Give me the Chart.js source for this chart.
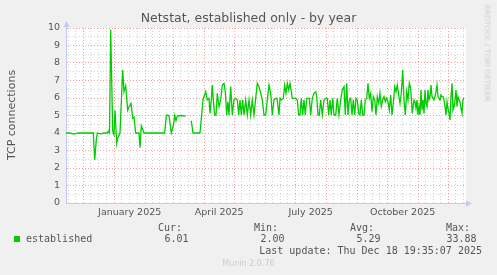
<!DOCTYPE html>
<html>
<head>
<meta charset="utf-8">
<script src="https://cdn.jsdelivr.net/npm/chart.js@4.4.1/dist/chart.umd.min.js"></script>
<style>
  html, body { margin: 0; padding: 0; background: #f0f0f0; }
  #wrap { position: relative; width: 497px; height: 275px; overflow: hidden; font-family: "DejaVu Sans", sans-serif; color: #555; }
  canvas { position: absolute; left: 0; top: 0; }
  .t { position: absolute; white-space: pre; line-height: 1; }
  .mono { font-family: "DejaVu Sans Mono", monospace; font-size: 10px; }
  .r { text-align: right; }
</style>
</head>
<body>
<div id="wrap">
  <canvas id="chart" width="497" height="275"></canvas>
  <div class="t" style="left:0; width:497px; text-align:center; top:12px; font-size:12.5px;">Netstat, established only - by year</div>
  <div class="t" style="left:11px; top:115px; font-size:11px; transform:translate(-50%,-50%) rotate(-90deg);">TCP connections</div>
  <div class="t" style="left:487px; top:53px; font-size:7.5px; color:#d0d0d0; transform:translate(-50%,-50%) rotate(90deg);">RRDTOOL / TOBI OETIKER</div>
  <div id="legend"></div>
  <div class="t" style="left:0; width:497px; text-align:center; top:260px; font-size:8px; color:#cccccc;">Munin 2.0.76</div>
</div>
<script>
// Munin "by year" graph: 400 days ending at the last update
const lastUpdate = new Date(2025, 11, 18, 19, 35, 7);
const spanDays = 400;
const startDate = new Date(lastUpdate.getTime() - spanDays * 86400000);

// days since start of the window, and established connections
const days = [
  0, 4, 6, 9, 12, 27.3, 28.7, 30.3, 31.3, 35, 38, 41.3, 42.3, 43.5, 44.7, 46.7, 48, 49, 50.7, 51.7,
  54, 56.7, 58, 59.7, 61.7, 63, 65, 66.7, 68, 69.7, 73, 74, 75.3, 76.7, 78, 98.7, 100.3, 103, 105.3, 107.3,
  108.7, 110, 111.3, 114.7, 119.7, 122.5, 125.3, 127, 134, 137,
  139.7, 141.3, 143, 144, 145.3, 146.3, 147.3, 148.7, 150, 151.3, 153, 154.7, 156.3, 158, 159.3, 160.7,
  162, 163, 164.7, 166.3, 168, 169.7, 171.3, 172.7, 174, 175.3, 176.7, 178, 179.7, 181.3, 183, 184.7,
  186.3, 188, 189.7, 191.3, 193, 194.7, 196.3, 198, 199.7, 201.3, 203, 204.7, 206.3, 208, 209.7,
  211, 213, 214, 215.3, 217.3, 218.7, 220, 221.3, 222.7, 224, 225.3, 226.3, 228, 229.7, 231.3, 232.7,
  234, 235.3, 236.7, 238, 239.3, 240.7, 242, 243.3, 244.7, 246.3, 248, 249.7, 250.7, 252, 253.3, 254.7,
  256.3, 258, 259.7, 261.3, 262.7, 264, 265.3, 266.7, 268, 269.7, 271.3, 273, 274.7, 276.3, 278,
  279.3, 280.7, 282, 283.3, 284.7, 286, 287.3, 288.7, 290, 291.3, 292.7, 294, 295.3, 296.7, 298, 299.3,
  300.7, 302, 303.3, 304.7, 306, 307.3, 308.7, 310, 311.3, 312.7, 314, 315.3, 316.7, 318, 319.3, 320.7,
  322, 323.3, 324.7, 326, 327.3, 328.7, 330, 331.3, 332.7, 334, 335.3, 336.7, 338, 339.3, 340.7, 342,
  343.3, 344.7, 346.3, 348,
  349, 350, 351, 352, 353, 354, 355, 356, 357, 358, 359, 360, 361, 362, 363, 364, 365, 366, 367, 368,
  369, 370, 371, 372, 373, 374, 375, 376, 377, 378, 379, 380, 381, 382, 383, 384, 385, 386, 387, 388,
  389, 390, 391, 392, 393, 394, 395, 396, 397, 398
];
const connections = [
  4.0, 4.0, 3.95, 3.95, 4.0, 4.0, 2.46, 3.6, 4.0, 3.95, 4.0, 4.0, 4.1, 4.0, 9.9, 4.1, 3.9, 5.3, 3.4, 3.7,
  4.0, 7.6, 6.36, 6.7, 5.3, 5.5, 5.7, 4.84, 4.9, 4.0, 4.0, 3.16, 4.4, 4.2, 4.0, 4.0, 5.03, 5.0, 4.0, 4.4,
  5.0, 4.7, 4.97, 5.0, 4.97, null, 4.7, 4.0, 4.0, 5.9,
  6.36, 5.89, 5.98, 5.12, 5.89, 6.74, 5.89, 5.03, 5.03, 6.27, 5.51, 5.89, 6.74, 6.84, 6.36, 5.03,
  5.79, 5.03, 6.65, 5.03, 5.89, 5.98, 5.89, 5.03, 5.89, 5.03, 5.89, 5.03, 5.89, 5.03, 5.89, 5.03,
  5.89, 5.03, 5.98, 6.84, 6.65, 6.27, 5.89, 5.03, 5.03, 5.89, 6.74, 6.27, 5.03, 5.89, 5.98,
  5.98, 5.03, 5.98, 5.89, 5.98, 6.74, 6.27, 6.84, 6.46, 6.84, 6.36, 5.98, 5.98, 5.98, 5.89, 5.03,
  5.03, 5.98, 5.03, 5.89, 5.03, 5.98, 5.98, 5.98, 5.03, 5.98, 6.27, 6.36, 6.08, 5.03, 5.03, 5.89,
  5.03, 5.89, 5.98, 5.98, 5.03, 5.89, 5.03, 5.98, 5.03, 5.03, 5.98, 5.03, 5.89, 6.46, 6.65,
  5.03, 6.84, 5.03, 5.89, 5.98, 5.03, 5.89, 5.03, 5.98, 5.89, 5.12, 5.03, 5.89, 5.03, 5.03, 5.89,
  5.98, 6.84, 5.98, 6.27, 5.22, 6.08, 5.89, 5.03, 6.08, 5.7, 6.27, 5.51, 5.89, 6.08, 5.79, 5.98,
  5.79, 5.31, 6.17, 5.03, 5.7, 6.65, 6.36, 6.74, 6.17, 5.7, 6.27, 7.6, 5.89, 5.03, 6.36, 5.89,
  6.84, 6.55, 5.12, 5.89,
  5.79, 5.41, 5.89, 5.03, 5.51, 5.03, 6.46, 5.31, 5.89, 5.12, 6.46, 5.7, 5.51, 6.46, 5.89, 6.08, 6.74, 6.08, 5.98, 5.89,
  6.08, 6.36, 6.74, 6.08, 5.98, 5.89, 6.17, 6.08, 6.08, 5.89, 5.51, 5.03, 5.79, 5.41, 5.12, 4.74, 6.08, 6.84, 5.31, 5.51,
  5.89, 6.46, 5.51, 6.08, 5.89, 5.79, 5.41, 5.12, 5.89, 6.01
];

const monthLabels = ['January 2025', 'April 2025', 'July 2025', 'October 2025'];
const labelMonths = [[2025, 0], [2025, 3], [2025, 6], [2025, 9]];
const statNames = ['Cur:', 'Min:', 'Avg:', 'Max:'];
const statValues = ['6.01', '2.00', '5.29', '33.88'];
const seriesName = 'established';
const lastUpdateText = 'Last update: Thu Dec 18 19:35:07 2025';

const lineColor = '#00cc00';
const majorGrid = '#f0a0a0';
const minorGrid = '#d4d4d4';
const axisColor = '#c8c8f8';

function dayOf(date) {
    return (date.getTime() - startDate.getTime()) / 86400000;
}

// month lines (major), quarter-month lines (minor), labels mid-month
function buildTimeTicks() {
    const ticks = [];
    for (let m = 0; m < 15; m++) {
        const a = new Date(2024, 10 + m, 1);
        const b = new Date(2024, 11 + m, 1);
        const d0 = dayOf(a), d1 = dayOf(b);
        if (d0 > 0 && d0 < spanDays) ticks.push({ value: d0, kind: 'major' });
        for (let q = 1; q < 4; q++) {
            const dq = d0 + (d1 - d0) * q / 4;
            if (dq > 0 && dq < spanDays) ticks.push({ value: dq, kind: 'minor' });
        }
    }
    labelMonths.forEach((ym, i) => {
        const mid = (dayOf(new Date(ym[0], ym[1], 1)) + dayOf(new Date(ym[0], ym[1] + 1, 1))) / 2;
        ticks.push({ value: mid, kind: 'label', text: monthLabels[i] });
    });
    ticks.sort((p, q) => p.value - q.value);
    return ticks;
}

const points = days.map((d, i) => ({ x: d, y: connections[i] }));

const plotBackground = {
    id: 'plotBackground',
    beforeDraw(chart) {
        const { ctx, chartArea: a } = chart;
        ctx.save();
        ctx.fillStyle = '#ffffff';
        ctx.fillRect(a.left, a.top, a.right - a.left, a.bottom - a.top);
        ctx.restore();
    }
};

const axisArrows = {
    id: 'axisArrows',
    afterDraw(chart) {
        const { ctx, chartArea: a } = chart;
        const x = Math.round(a.left) + 0.5;
        const y = Math.round(a.bottom) + 0.5;
        ctx.save();
        ctx.strokeStyle = axisColor;
        ctx.fillStyle = axisColor;
        ctx.lineWidth = 1;
        ctx.beginPath();
        ctx.moveTo(x, a.top); ctx.lineTo(x, a.top - 4);
        ctx.moveTo(a.right, y); ctx.lineTo(a.right + 3, y);
        ctx.stroke();
        ctx.beginPath();
        ctx.moveTo(x, a.top - 7); ctx.lineTo(x - 3, a.top - 1); ctx.lineTo(x + 3, a.top - 1);
        ctx.closePath(); ctx.fill();
        ctx.beginPath();
        ctx.moveTo(a.right + 6, y); ctx.lineTo(a.right, y - 3); ctx.lineTo(a.right, y + 3);
        ctx.closePath(); ctx.fill();
        ctx.restore();
    }
};

new Chart(document.getElementById('chart'), {
    type: 'line',
    data: {
        datasets: [{
            label: seriesName,
            data: points,
            borderColor: lineColor,
            borderWidth: 1.3,
            pointRadius: 0,
            tension: 0,
            spanGaps: false
        }]
    },
    options: {
        responsive: false,
        animation: false,
        layout: { padding: { left: 0, top: 28, right: 31, bottom: 0 } },
        plugins: { legend: { display: false }, tooltip: { enabled: false } },
        scales: {
            x: {
                type: 'linear',
                min: 0,
                max: spanDays,
                afterFit: s => { s.height = 72; },
                afterBuildTicks: s => { s.ticks = buildTimeTicks(); },
                grid: {
                    drawTicks: false,
                    color: c => {
                        const k = c.tick && c.tick.kind;
                        if (k === 'major') return majorGrid;
                        if (k === 'minor') return minorGrid;
                        return 'rgba(0,0,0,0)';
                    }
                },
                border: { color: axisColor, dash: [1, 2] },
                ticks: {
                    autoSkip: false,
                    maxRotation: 0,
                    padding: 4,
                    color: '#555',
                    font: { family: 'DejaVu Sans', size: 9.5 },
                    callback: (v, i, ticks) => ticks[i].text || ''
                }
            },
            y: {
                min: 0,
                max: 10,
                afterFit: s => { s.width = 66; },
                grid: {
                    drawTicks: false,
                    color: c => (c.tick && Number.isInteger(c.tick.value)) ? majorGrid : minorGrid
                },
                border: { color: axisColor, dash: [1, 2] },
                ticks: {
                    stepSize: 0.5,
                    autoSkip: false,
                    padding: 6,
                    color: '#555',
                    font: { family: 'DejaVu Sans', size: 9.5 },
                    callback: v => Number.isInteger(v) ? String(v) : ''
                }
            }
        }
    },
    plugins: [plotBackground, axisArrows]
});

// legend and summary rows under the graph
const legend = document.getElementById('legend');
const statRight = [182, 278, 374, 470];
let html = '<div style="position:absolute;left:14px;top:236px;width:6px;height:6px;background:' + lineColor + ';"></div>';
html += '<div class="t mono" style="left:26px;top:234px;">' + seriesName + '</div>';
statNames.forEach((name, i) => {
    html += '<div class="t mono r" style="right:' + (497 - statRight[i]) + 'px;top:222.5px;">' + name + '</div>';
    html += '<div class="t mono r" style="right:' + (497 - statRight[i] - 6.5) + 'px;top:234px;">' + statValues[i] + '</div>';
});
html += '<div class="t mono r" style="right:15px;top:246px;">' + lastUpdateText + '</div>';
legend.innerHTML = html;
</script>
</body>
</html>
